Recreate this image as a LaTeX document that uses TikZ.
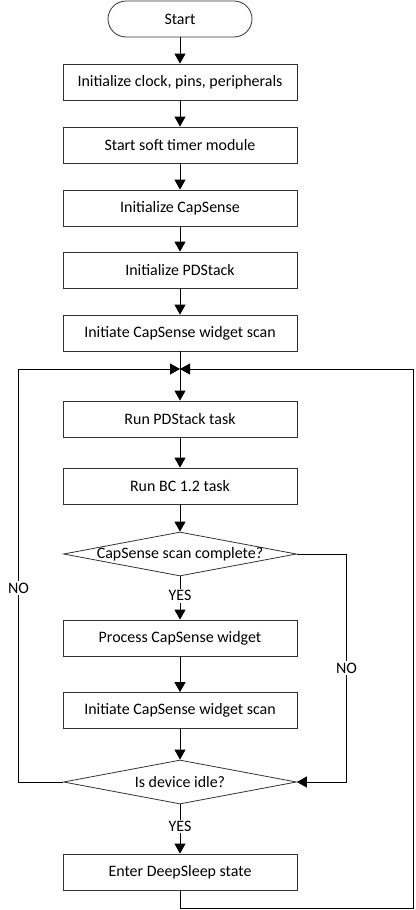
\documentclass[tikz,border=0pt]{standalone}
\usepackage{fontspec}
\setmainfont{Carlito}
\usetikzlibrary{arrows.meta,shapes.geometric}
\begin{document}
\begin{tikzpicture}[x=1bp,y=-1bp,
  font=\fontsize{16}{19}\selectfont,
  box/.style={draw=black!80,line width=0.8bp,minimum width=234bp,minimum height=36bp,inner sep=0pt},
  term/.style={draw=black!80,line width=0.8bp,rounded corners=18bp,minimum width=144bp,minimum height=36bp,inner sep=0pt},
  dec/.style={draw=black!80,line width=0.8bp,diamond,aspect=5.3,minimum width=233bp,minimum height=44bp,inner sep=0pt},
  conn/.style={line width=0.8bp},
  arr/.style={conn,-{Triangle[length=10bp,width=11bp]}},
  lbl/.style={fill=white,inner sep=1.5bp}]
\useasboundingbox (0,0) rectangle (415,910);
\node[term] (start) at (180,19) {Start};
\node[box] (b1) at (180,82) {Initialize clock, pins, peripherals};
\node[box] (b2) at (180,145) {Start soft timer module};
\node[box] (b3) at (180,208) {Initialize CapSense};
\node[box] (b4) at (180,270) {Initialize PDStack};
\node[box] (b5) at (180,333) {Initiate CapSense widget scan};
\coordinate (m) at (180,369);
\node[box] (b6) at (180,419) {Run PDStack task};
\node[box] (b7) at (180,486) {Run BC 1.2 task};
\node[dec] (d1) at (180,554) {\makebox[0pt]{CapSense scan complete?}};
\node[box] (b8) at (180,638) {Process CapSense widget};
\node[box] (b9) at (180,710.5) {Initiate CapSense widget scan};
\node[dec] (d2) at (180,782) {\makebox[0pt]{Is device idle?}};
\node[box] (b10) at (180,872) {Enter DeepSleep state};
\coordinate (lx) at (18.5,0);
\coordinate (rx) at (413,0);
\coordinate (nx) at (346.5,0);
\coordinate (by) at (0,908);

\draw[arr] (start) -- (b1);
\draw[arr] (b1) -- (b2);
\draw[arr] (b2) -- (b3);
\draw[arr] (b3) -- (b4);
\draw[arr] (b4) -- (b5);
\draw[conn] (b5) -- (m);
\draw[arr] (m) -- (b6);
\draw[arr] (b6) -- (b7);
\draw[arr] (b7) -- (d1);
\draw[arr] (d1) -- node[lbl,pos=0.45]{YES} (b8);
\draw[arr] (b8) -- (b9);
\draw[arr] (b9) -- (d2);
\draw[arr] (d2) -- node[lbl,pos=0.45]{YES} (b10);
\draw[arr] (d1.east) -- (d1.east -| nx) -- node[lbl,pos=0.5]{NO} (d2.east -| nx) -- (d2.east);
\draw[arr] (d2.west) -- (d2.west -| lx) -- node[lbl,pos=0.47]{NO} (m -| lx) -- (m);
\draw[arr] (b10) -- (b10 |- by) -- (by -| rx) -- (m -| rx) -- (m);
\end{tikzpicture}
\end{document}
